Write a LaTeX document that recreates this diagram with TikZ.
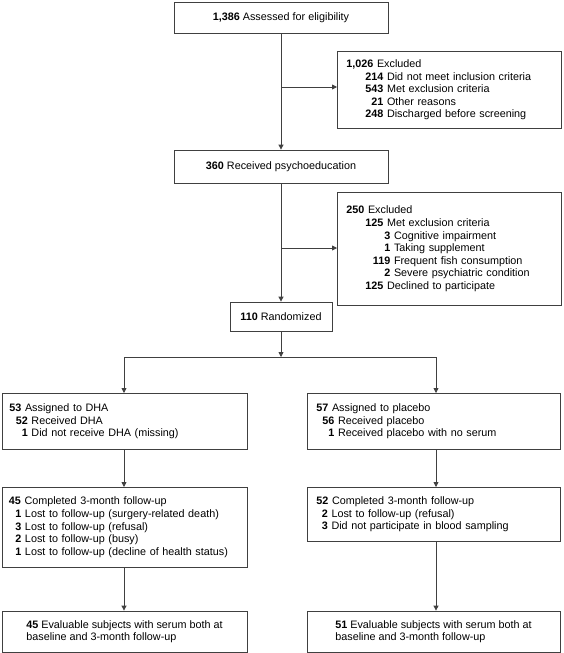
\documentclass[tikz,border=0pt]{standalone}
\usepackage{fontspec}
\setmainfont{Liberation Sans}
\usetikzlibrary{arrows.meta}
\newcommand\rn[2]{\makebox[#1][r]{\textbf{#2}}}
\newcommand\fs{\fontsize{10.8}{12.6}\selectfont}
\begin{document}
\begin{tikzpicture}[x=1pt,y=-1pt,
  box/.style={draw=black!75, line width=0.8pt, rectangle, inner sep=0pt, font=\fs, text=black},
  lbox/.style={box, align=left, anchor=north west},
  cbox/.style={box, align=left},
  arr/.style={-{Triangle[length=5pt,width=5pt]}, draw=black!75, line width=0.8pt},
  ln/.style={draw=black!75, line width=0.8pt}]
\useasboundingbox (0,0) rectangle (563,653);
% top chain
\node[cbox, minimum width=214pt, minimum height=31pt] (b1) at (281,17.5) {\textbf{1,386} Assessed for eligibility};
\node[lbox, text width=206pt, inner xsep=9pt, minimum height=77pt] (ex1) at (337,51) {%
\textbf{1,026} Excluded\\
\rn{37pt}{214} Did not meet inclusion criteria\\
\rn{37pt}{543} Met exclusion criteria\\
\rn{37pt}{21} Other reasons\\
\rn{37pt}{248} Discharged before screening};
\node[cbox, minimum width=214pt, minimum height=33pt] (b2) at (281,166.5) {\textbf{360} Received psychoeducation};
\node[lbox, text width=206pt, inner xsep=9pt, minimum height=113pt] (ex2) at (337,192) {%
\textbf{250} Excluded\\
\rn{37pt}{125} Met exclusion criteria\\
\rn{44pt}{3} Cognitive impairment\\
\rn{44pt}{1} Taking supplement\\
\rn{44pt}{119} Frequent fish consumption\\
\rn{44pt}{2} Severe psychiatric condition\\
\rn{37pt}{125} Declined to participate};
\node[cbox, minimum width=102pt, minimum height=29pt] (rnd) at (281,316.5) {\textbf{110} Randomized};
% arms
\node[lbox, text width=231pt, inner xsep=7pt, minimum height=56pt] (d1) at (2,393) {%
\textbf{53} Assigned to DHA\\
\rn{18.5pt}{52} Received DHA\\
\rn{18.5pt}{1} Did not receive DHA (missing)};
\node[lbox, text width=235pt, inner xsep=9pt, minimum height=56pt] (p1) at (307,393) {%
\textbf{57} Assigned to placebo\\
\rn{18pt}{56} Received placebo\\
\rn{18pt}{1} Received placebo with no serum};
\node[lbox, text width=232pt, inner xsep=6.5pt, minimum height=80pt] (d2) at (2,487) {%
\textbf{45} Completed 3-month follow-up\\
\rn{12.5pt}{1} Lost to follow-up (surgery-related death)\\
\rn{12.5pt}{3} Lost to follow-up (refusal)\\
\rn{12.5pt}{2} Lost to follow-up (busy)\\
\rn{12.5pt}{1} Lost to follow-up (decline of health status)};
\node[lbox, text width=235pt, inner xsep=9pt, minimum height=54pt] (p2) at (307,487) {%
\textbf{52} Completed 3-month follow-up\\
\rn{11.5pt}{2} Lost to follow-up (refusal)\\
\rn{11.5pt}{3} Did not participate in blood sampling};
\node[cbox, minimum width=245pt, minimum height=41pt] (d3) at (124.5,631.5) {%
\textbf{45} Evaluable subjects with serum both at\\
baseline and 3-month follow-up};
\node[cbox, minimum width=253pt, minimum height=41pt] (p3) at (433.5,631.5) {%
\textbf{51} Evaluable subjects with serum both at\\
baseline and 3-month follow-up};
% junctions
\coordinate (j1) at (281,87);
\coordinate (j2) at (281,248);
\coordinate (sp) at (281,357);
\coordinate (sL) at (124,357);
\coordinate (sR) at (436,357);
% connectors
\draw[arr] (b1.south) -- (b2.north);
\draw[arr] (j1) -- (j1 -| ex1.west);
\draw[arr] (b2.south) -- (rnd.north);
\draw[arr] (j2) -- (j2 -| ex2.west);
\draw[arr] (rnd.south) -- (sp);
\draw[ln] (sL) -- (sR);
\draw[arr] (sL) -- (sL |- d1.north);
\draw[arr] (sR) -- (sR |- p1.north);
\draw[arr] (sL |- d1.south) -- (sL |- d2.north);
\draw[arr] (sR |- p1.south) -- (sR |- p2.north);
\draw[arr] (sL |- d2.south) -- (sL |- d3.north);
\draw[arr] (sR |- p2.south) -- (sR |- p3.north);
\end{tikzpicture}
\end{document}
